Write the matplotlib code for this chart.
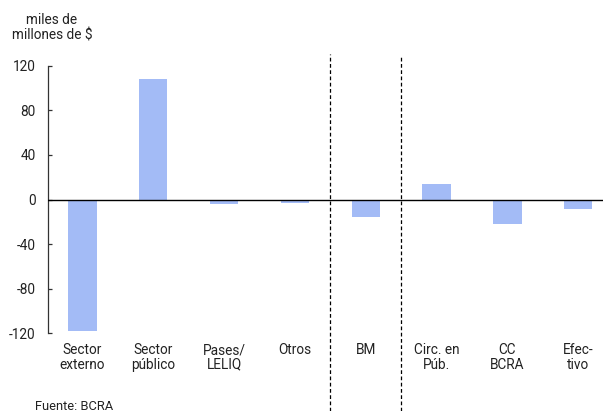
import matplotlib.pyplot as plt

plt.rcParams["font.family"] = ["Roboto", "DejaVu Sans"]

categories = ["Sector\nexterno", "Sector\npúblico", "Pases/\nLELIQ", "Otros",
              "BM", "Circ. en\nPúb.", "CC\nBCRA", "Efec-\ntivo"]
values = [-118, 108, -4, -3, -16, 13.5, -22, -8.5]
yticks = [-120, -80, -40, 0, 40, 80, 120]
separators = [3.5, 4.5]

BAR_COLOR = "#a3bbf6"
TEXT_COLOR = "#222222"

fig = plt.figure(figsize=(6.03, 4.11), dpi=100)
ax = fig.add_axes([48 / 603, 0.189, 555 / 603, 0.651])

x = range(len(categories))
ax.bar(x, values, width=0.4, color=BAR_COLOR, zorder=2)
ax.axhline(0, color="black", lw=1, zorder=3)

# dashed separators run past the plot area down to the bottom edge
for xs, top in zip(separators, [1.044, 1.033]):
    ax.axvline(xs, ymin=-0.29, ymax=top, color="black", lw=0.9,
               ls=(0, (3, 2)), clip_on=False)

ax.set_xlim(-0.486, 7.35)
ax.set_ylim(-120, 120)
ax.set_yticks(yticks)
ax.set_yticklabels([str(v) for v in yticks], fontsize=9.8, color=TEXT_COLOR)
ax.tick_params(axis="y", direction="in", length=3, width=0.9, color="#333333", pad=9)
ax.set_xticks(list(x))
ax.set_xticklabels(categories, fontsize=9.8, color=TEXT_COLOR, linespacing=1.05)
ax.tick_params(axis="x", length=0, pad=7)

for side in ["top", "right", "bottom"]:
    ax.spines[side].set_visible(False)
ax.spines["left"].set_color("#333333")
ax.spines["left"].set_linewidth(0.9)

fig.text(52 / 603, 1 - 28 / 411, "miles de\nmillones de $", ha="center", va="center",
         fontsize=9.8, color=TEXT_COLOR, linespacing=1.15)
fig.text(35 / 603, 1 - 406 / 411, "Fuente: BCRA", ha="left", va="center",
         fontsize=9.3, color=TEXT_COLOR)

fig.savefig("out.png", dpi=100)
